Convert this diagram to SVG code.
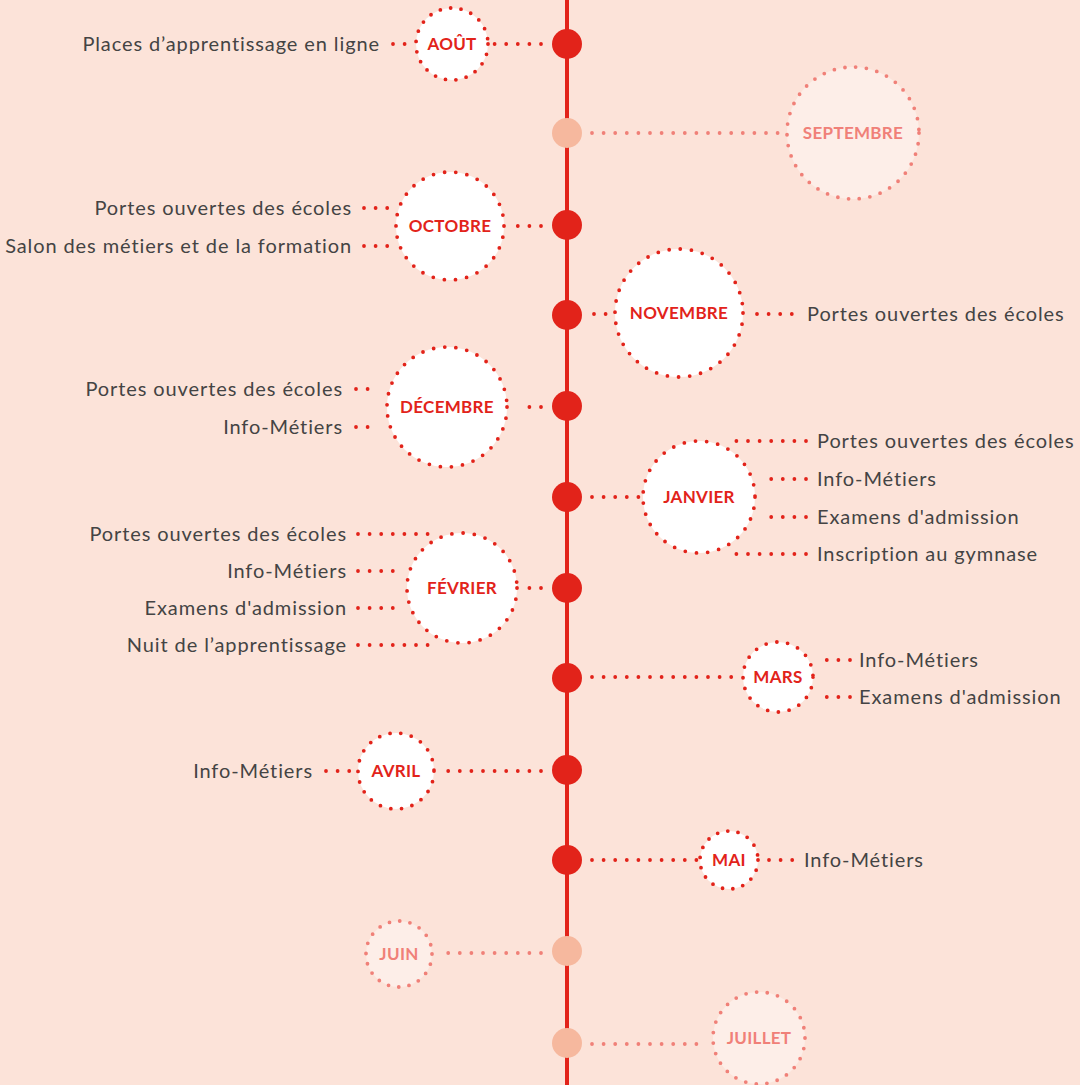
<svg xmlns="http://www.w3.org/2000/svg" width="1080" height="1085" viewBox="0 0 1080 1085">
<style>
.bg{fill:#fce3d9}
.spine{stroke:#e2231a;stroke-width:4}
.dot{fill:#e2231a}
.dot-off{fill:#f6b89e}
.c{fill:#ffffff;stroke:#e2231a;stroke-width:3.8;stroke-linecap:round}
.c-off{fill:#fdeee8;stroke:#f08078;stroke-width:3.8;stroke-linecap:round}
.ln{stroke:#e2231a;stroke-width:3.8;stroke-linecap:round;stroke-dasharray:0 11.6;fill:none}
.ln-off{stroke:#f08078;stroke-width:3.8;stroke-linecap:round;stroke-dasharray:0 11.6;fill:none}
.m{font-family:Lato,"Noto Sans",sans-serif;font-weight:700;font-size:17px;letter-spacing:0.3px;fill:#e2231a;text-anchor:middle}
.m-off{font-family:Lato,"Noto Sans",sans-serif;font-weight:700;font-size:17px;letter-spacing:0.3px;fill:#f08078;text-anchor:middle}
.t{font-family:Lato,"Noto Sans",sans-serif;font-size:20px;letter-spacing:0.9px;fill:#444444}
.r{text-anchor:end}
</style>
<rect class="bg" x="0" y="0" width="1080" height="1085"/>
<line class="spine" x1="567" y1="0" x2="567" y2="1085"/>

<g id="connectors">
  <line class="ln" x1="541" y1="44" x2="490" y2="44"/>
  <line class="ln" x1="393" y1="44" x2="416" y2="44"/>
  <line class="ln-off" x1="592" y1="133" x2="785" y2="133"/>
  <line class="ln" x1="541" y1="226" x2="515" y2="226"/>
  <line class="ln" x1="364" y1="208" x2="388" y2="208"/>
  <line class="ln" x1="364" y1="246" x2="388" y2="246"/>
  <line class="ln" x1="594" y1="314" x2="606" y2="314"/>
  <line class="ln" x1="757" y1="314" x2="794" y2="314"/>
  <line class="ln" x1="541" y1="407" x2="518" y2="407"/>
  <line class="ln" x1="356" y1="389" x2="379" y2="389"/>
  <line class="ln" x1="356" y1="427" x2="379" y2="427"/>
  <line class="ln" x1="592" y1="497" x2="640" y2="497"/>
  <line class="ln" x1="806" y1="441" x2="736" y2="441"/>
  <line class="ln" x1="806" y1="479" x2="764" y2="479"/>
  <line class="ln" x1="806" y1="517" x2="764" y2="517"/>
  <line class="ln" x1="806" y1="554" x2="736" y2="554"/>
  <line class="ln" x1="541" y1="588" x2="529" y2="588"/>
  <line class="ln" x1="358" y1="534" x2="428" y2="534"/>
  <line class="ln" x1="358" y1="571" x2="393" y2="571"/>
  <line class="ln" x1="358" y1="608" x2="393" y2="608"/>
  <line class="ln" x1="358" y1="645" x2="428" y2="645"/>
  <line class="ln" x1="592" y1="677" x2="740" y2="677"/>
  <line class="ln" x1="850" y1="660" x2="823" y2="660"/>
  <line class="ln" x1="850" y1="697" x2="823" y2="697"/>
  <line class="ln" x1="541" y1="771" x2="437" y2="771"/>
  <line class="ln" x1="326" y1="771" x2="350" y2="771"/>
  <line class="ln" x1="592" y1="860" x2="697" y2="860"/>
  <line class="ln" x1="769" y1="860" x2="794" y2="860"/>
  <line class="ln-off" x1="541" y1="953" x2="442" y2="953"/>
  <line class="ln-off" x1="592" y1="1044" x2="707" y2="1044"/>
</g>

<g id="aout">
  <circle class="dot" cx="567" cy="44" r="15"/>
  <circle class="c" cx="452" cy="44" r="36" stroke-dasharray="0 10.5"/>
  <text class="m" x="452" y="50">AOÛT</text>
  <text class="t r" x="380" y="51">Places d’apprentissage en ligne</text>
</g>

<g id="septembre">
  <circle class="dot-off" cx="567" cy="133" r="15"/>
  <circle class="c-off" cx="853" cy="133" r="66" stroke-dasharray="0 10.8"/>
  <text class="m-off" x="853" y="139">SEPTEMBRE</text>
</g>

<g id="octobre">
  <circle class="dot" cx="567" cy="225" r="15"/>
  <circle class="c" cx="450" cy="226" r="54" stroke-dasharray="0 11.3"/>
  <text class="m" x="450" y="232">OCTOBRE</text>
  <text class="t r" x="352" y="215">Portes ouvertes des écoles</text>
  <text class="t r" x="352" y="253">Salon des métiers et de la formation</text>
</g>

<g id="novembre">
  <circle class="dot" cx="567" cy="315" r="15"/>
  <circle class="c" cx="679" cy="313" r="64" stroke-dasharray="0 11.2"/>
  <text class="m" x="679" y="319">NOVEMBRE</text>
  <text class="t" x="807" y="321">Portes ouvertes des écoles</text>
</g>

<g id="decembre">
  <circle class="dot" cx="567" cy="406" r="15"/>
  <circle class="c" cx="447" cy="407" r="60" stroke-dasharray="0 11.2"/>
  <text class="m" x="447" y="413">DÉCEMBRE</text>
  <text class="t r" x="343" y="396">Portes ouvertes des écoles</text>
  <text class="t r" x="343" y="434">Info-Métiers</text>
</g>

<g id="janvier">
  <circle class="dot" cx="567" cy="497" r="15"/>
  <circle class="c" cx="699" cy="497" r="56" stroke-dasharray="0 11.3"/>
  <text class="m" x="699" y="503">JANVIER</text>
  <text class="t" x="817" y="448">Portes ouvertes des écoles</text>
  <text class="t" x="817" y="486">Info-Métiers</text>
  <text class="t" x="817" y="524">Examens d'admission</text>
  <text class="t" x="817" y="561">Inscription au gymnase</text>
</g>

<g id="fevrier">
  <circle class="dot" cx="567" cy="588" r="15"/>
  <circle class="c" cx="462" cy="588" r="55" stroke-dasharray="0 11.3"/>
  <text class="m" x="462" y="594">FÉVRIER</text>
  <text class="t r" x="347" y="541">Portes ouvertes des écoles</text>
  <text class="t r" x="347" y="578">Info-Métiers</text>
  <text class="t r" x="347" y="615">Examens d'admission</text>
  <text class="t r" x="347" y="652">Nuit de l’apprentissage</text>
</g>

<g id="mars">
  <circle class="dot" cx="567" cy="678" r="15"/>
  <circle class="c" cx="778" cy="677" r="35" stroke-dasharray="0 10.9"/>
  <text class="m" x="778" y="683">MARS</text>
  <text class="t" x="859" y="667">Info-Métiers</text>
  <text class="t" x="859" y="704">Examens d'admission</text>
</g>

<g id="avril">
  <circle class="dot" cx="567" cy="770" r="15"/>
  <circle class="c" cx="396" cy="771" r="38" stroke-dasharray="0 10.8"/>
  <text class="m" x="396" y="777">AVRIL</text>
  <text class="t r" x="313" y="778">Info-Métiers</text>
</g>

<g id="mai">
  <circle class="dot" cx="567" cy="860" r="15"/>
  <circle class="c" cx="729" cy="860" r="29" stroke-dasharray="0 10.4"/>
  <text class="m" x="729" y="866">MAI</text>
  <text class="t" x="804" y="867">Info-Métiers</text>
</g>

<g id="juin">
  <circle class="dot-off" cx="567" cy="951" r="15"/>
  <circle class="c-off" cx="399" cy="954" r="33" stroke-dasharray="0 10.4"/>
  <text class="m-off" x="399" y="960">JUIN</text>
</g>

<g id="juillet">
  <circle class="dot-off" cx="567" cy="1043" r="15"/>
  <circle class="c-off" cx="759" cy="1038" r="46" stroke-dasharray="0 10.7"/>
  <text class="m-off" x="759" y="1044">JUILLET</text>
</g>
</svg>
